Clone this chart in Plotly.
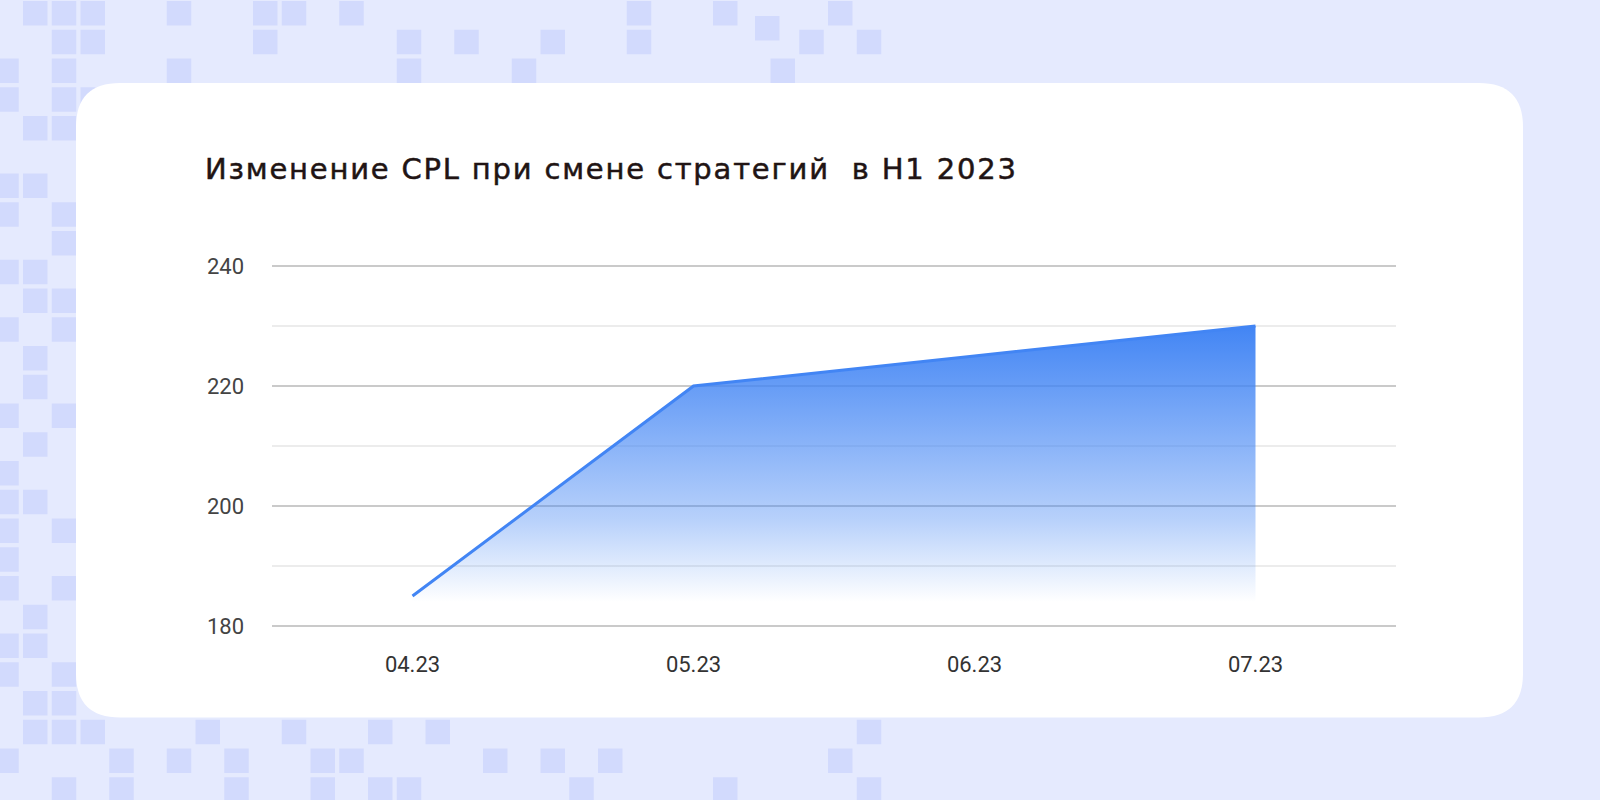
import plotly.graph_objects as go

# data
months = ['04.23', '05.23', '06.23', '07.23']
cpl = [185, 220, 225, 230]
y_ticks = [180, 200, 220, 240]

title_text = 'Изменение CPL при смене стратегий  в H1 2023'

# background squares: (row, col) on a 28.75px grid
squares = [
    (0, 1), (0, 2), (0, 3), (0, 6), (0, 9), (0, 10), (0, 12), (0, 22), (0, 25), (0, 29),
    (1, 2), (1, 3), (1, 9), (1, 14), (1, 16), (1, 19), (1, 22), (1, 28), (1, 30),
    (2, 0), (2, 2), (2, 6), (2, 14), (2, 18), (2, 27),
    (3, 0), (3, 2), (3, 3),
    (4, 1), (4, 2),
    (6, 0), (6, 1), (7, 0), (7, 2), (8, 2), (9, 0), (9, 1), (10, 1), (10, 2),
    (11, 0), (11, 2), (12, 1), (13, 1), (14, 0), (14, 2), (15, 1), (16, 0),
    (17, 0), (17, 1), (18, 0), (18, 2), (19, 0), (20, 0), (20, 2), (21, 1),
    (22, 0), (22, 1), (23, 0), (23, 2), (24, 1), (24, 2),
    (25, 1), (25, 2), (25, 3), (25, 7), (25, 10), (25, 13), (25, 15), (25, 30),
    (26, 0), (26, 4), (26, 6), (26, 8), (26, 11), (26, 12), (26, 17), (26, 19), (26, 21), (26, 29),
    (27, 2), (27, 4), (27, 8), (27, 11), (27, 13), (27, 14), (27, 20), (27, 25), (27, 30),
]

W, H = 1600, 800
L, R, T, B = 272, 1396, 265, 627


def px(x):
    return (x - L) / (R - L)


def py(y):
    return (B - y) / (B - T)


shapes = []
pitch, size = 28.75, 24.5
for r, c in squares:
    x0 = 23 + pitch * (c - 1)
    y0 = 1 + pitch * r
    shapes.append(dict(type='rect', xref='paper', yref='paper', layer='below',
                       x0=px(x0), x1=px(x0 + size), y0=py(y0), y1=py(y0 + size),
                       fillcolor='#D2DAFD', line_width=0))
# one square that sits off the grid
shapes.append(dict(type='rect', xref='paper', yref='paper', layer='below',
                   x0=px(755), x1=px(779.5), y0=py(16), y1=py(40.5),
                   fillcolor='#D2DAFD', line_width=0))

# white card with rounded corners
cx0, cx1, cy0, cy1, rad = 76, 1523, 83, 717.5, 44
pts = [
    ('M', cx0 + rad, cy0), ('L', cx1 - rad, cy0), ('Q', cx1, cy0, cx1, cy0 + rad),
    ('L', cx1, cy1 - rad), ('Q', cx1, cy1, cx1 - rad, cy1),
    ('L', cx0 + rad, cy1), ('Q', cx0, cy1, cx0, cy1 - rad),
    ('L', cx0, cy0 + rad), ('Q', cx0, cy0, cx0 + rad, cy0),
]
path = ''
for p in pts:
    cmd, coords = p[0], p[1:]
    parts = []
    for i in range(0, len(coords), 2):
        parts.append('%.5f,%.5f' % (px(coords[i]), py(coords[i + 1])))
    path += cmd + ' '.join(parts) + ' '
path += 'Z'
shapes.append(dict(type='path', path=path, xref='paper', yref='paper', layer='below',
                   fillcolor='white', line_width=0))

fig = go.Figure()
fig.add_trace(go.Scatter(
    x=months, y=cpl, mode='lines',
    line=dict(color='#4285F4', width=3),
    fill='tozeroy',
    fillgradient=dict(type='vertical', start=184, stop=230,
                      colorscale=[[0, 'rgba(66,133,244,0)'],
                                  [0.3, 'rgba(66,133,244,0.38)'],
                                  [1, 'rgba(66,133,244,1)']]),
    hoverinfo='skip', showlegend=False))

fig.update_layout(
    width=W, height=H,
    margin=dict(l=L, r=W - R, t=T, b=H - B, pad=0),
    paper_bgcolor='#E5EAFE',
    plot_bgcolor='rgba(0,0,0,0)',
    shapes=shapes,
    title=dict(text=title_text, x=205 / W, xanchor='left', xref='container',
               y=1 - 169 / H, yanchor='middle', yref='container',
               font=dict(family='DejaVu Sans', size=29, color='#211414')),
    xaxis=dict(range=[-0.5, 3.5], showgrid=False, zeroline=False, showline=False,
               ticks='', ticklabelstandoff=22,
               tickfont=dict(family='Roboto', size=22, color='#333333')),
    yaxis=dict(range=[179.83, 240.17], tickvals=y_ticks, showgrid=True, gridcolor='#CACACA',
               gridwidth=1.5, zeroline=False, showline=False, ticks='',
               ticklabelstandoff=27,
               minor=dict(tickvals=[190, 210, 230], showgrid=True,
                          gridcolor='#ECECEC', gridwidth=1.5),
               tickfont=dict(family='Roboto', size=22, color='#444444')),
)

# page tweaks: no body margin, a little letter spacing and weight on the title
page_fix = """
document.body.style.margin = '0';
var st = document.createElement('style');
st.textContent = '.gtitle { letter-spacing: 1.8px; stroke: #211414; stroke-width: 0.5px; }';
document.head.appendChild(st);
"""

fig.write_html('out.html', post_script=page_fix, config={'displayModeBar': False})
